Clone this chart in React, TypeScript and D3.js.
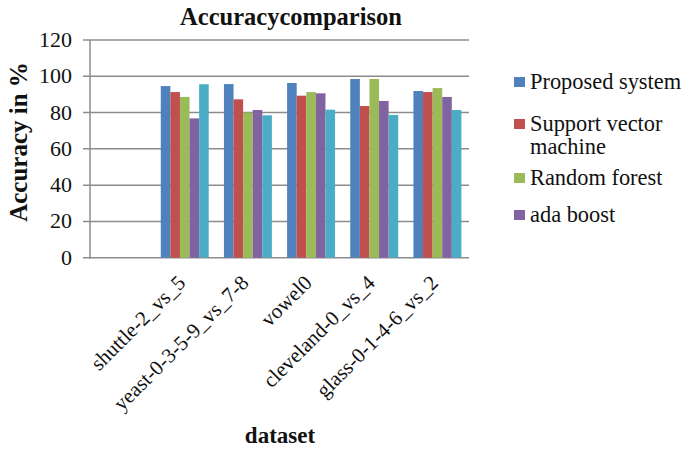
import React from "react";
import * as d3 from "d3";

// Datasets along the x axis (the first slot is left empty)
const categories = ["", "shuttle-2_vs_5", "yeast-0-3-5-9_vs_7-8", "vowel0", "cleveland-0_vs_4", "glass-0-1-4-6_vs_2"];
const seriesNames = ["Proposed system", "Support vector machine", "Random forest", "ada boost", "series5"];
const legendNames = ["Proposed system", "Support vector\nmachine", "Random forest", "ada boost"];
const colors = ["#4F81BD", "#C0504D", "#9BBB59", "#8064A2", "#4BACC6"];

// Accuracy (%) per dataset, one array per method
const proposed = [null, 94.6, 95.7, 96.3, 98.5, 91.9];
const svm = [null, 91.3, 87.3, 89.3, 83.6, 91.3];
const randomForest = [null, 88.6, 80.0, 91.3, 98.5, 93.5];
const adaBoost = [null, 76.8, 81.4, 90.6, 86.4, 88.6];
const fifth = [null, 95.6, 78.5, 81.6, 78.7, 81.4];
const yTicks = [0, 20, 40, 60, 80, 100, 120];

const series = [proposed, svm, randomForest, adaBoost, fifth];

const FONT = "Liberation Serif";
const INK = "#111";
const GRID = "#8c8c8c";

const left = 90, right = 469, top = 40, bottom = 257.7;
const x0 = d3.scaleBand<string>().domain(categories).range([left, right]);
const x1 = d3.scaleBand<string>().domain(seriesNames).range([7.6, x0.bandwidth() - 7.6]);
const y = d3.scaleLinear().domain([0, 120]).range([bottom, top]);

const legY = [77, 119, 173, 210];

export default function App() {
  return (
    <svg width={684} height={449} style={{ position: "absolute", left: 0, top: 0, background: "#fff" }}>
      {/* horizontal grid lines and y tick labels */}
      {yTicks.map((t) => (
        <g key={t}>
          <line x1={left - 7} x2={right} y1={y(t)} y2={y(t)} stroke={GRID} strokeWidth={1.5} />
          <text x={72} y={y(t) + 7} textAnchor="end" fill={INK} style={{ fontFamily: FONT, fontSize: 22 }}>
            {t}
          </text>
        </g>
      ))}
      <line x1={left} x2={left} y1={top} y2={bottom + 1} stroke={GRID} strokeWidth={1.5} />

      {/* bars */}
      {series.map((vals, si) =>
        vals.map((v, ci) =>
          v == null ? null : (
            <rect
              key={`${si}-${ci}`}
              x={(x0(categories[ci]) as number) + (x1(seriesNames[si]) as number)}
              width={x1.bandwidth()}
              y={y(v)}
              height={y(0) - y(v)}
              fill={colors[si]}
            />
          )
        )
      )}

      {/* rotated category labels */}
      {categories.map((c) =>
        c ? (
          <text
            key={c}
            transform={`translate(${(x0(c) as number) + x0.bandwidth() / 2 + 2},${284}) rotate(-45)`}
            textAnchor="end"
            fill={INK}
            style={{ fontFamily: FONT, fontSize: 21 }}
          >
            {c}
          </text>
        ) : null
      )}

      {/* titles */}
      <text x={291} y={25} textAnchor="middle" fill={INK} style={{ fontFamily: FONT, fontSize: 24.5, fontWeight: "bold" }}>
        Accuracycomparison
      </text>
      <text x={280} y={443} textAnchor="middle" fill={INK} style={{ fontFamily: FONT, fontSize: 23, fontWeight: "bold" }}>
        dataset
      </text>
      <text
        transform="translate(27,142) rotate(-90)"
        textAnchor="middle"
        fill={INK}
        style={{ fontFamily: FONT, fontSize: 25, fontWeight: "bold" }}
      >
        Accuracy in %
      </text>

      {/* legend */}
      {legendNames.map((name, i) => (
        <g key={name}>
          <rect x={514} y={legY[i]} width={11} height={10} fill={colors[i]} />
          {name.split("\n").map((ln, li) => (
            <text key={li} x={530} y={legY[i] + 12 + li * 23} fill={INK} style={{ fontFamily: FONT, fontSize: 22.4 }}>
              {ln}
            </text>
          ))}
        </g>
      ))}
    </svg>
  );
}
